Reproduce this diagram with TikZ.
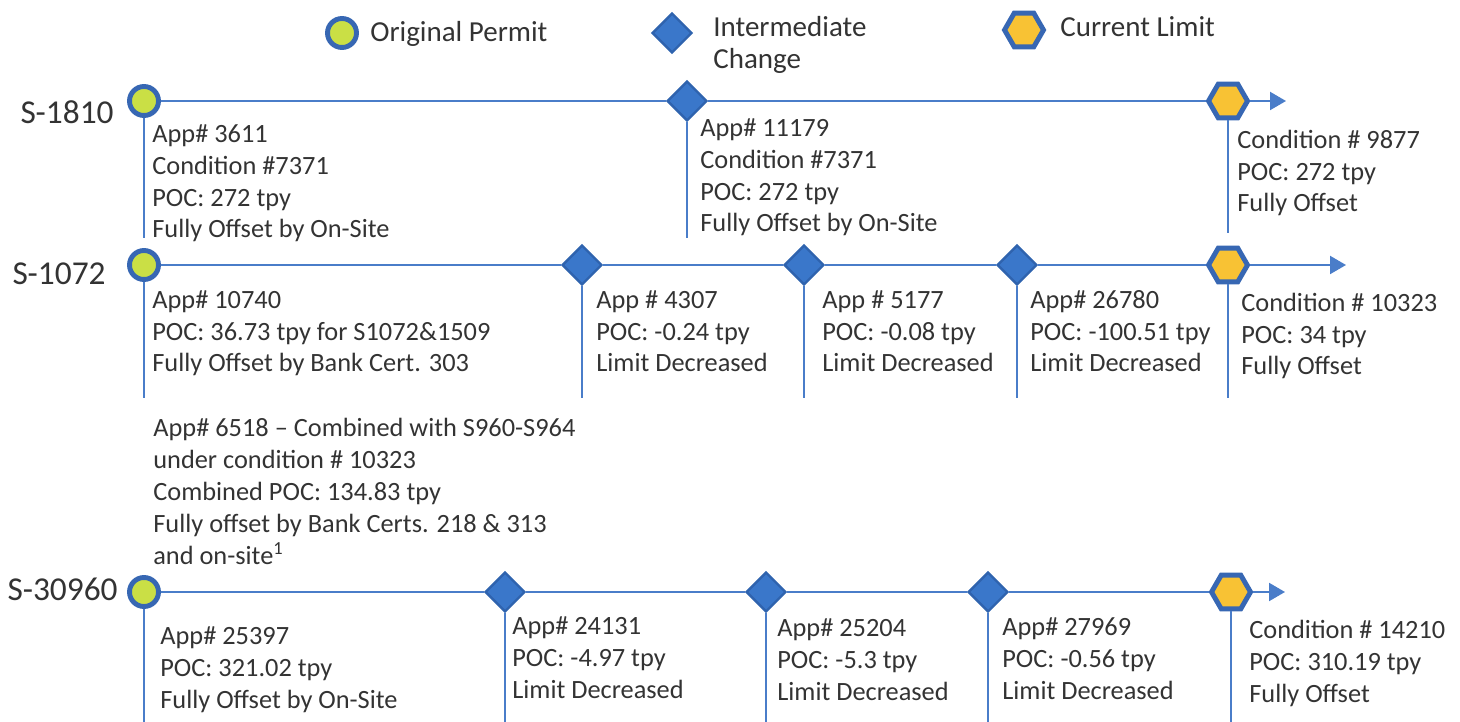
\documentclass[tikz,border=0pt]{standalone}
\usepackage{fontspec}
\setmainfont{Carlito}
\usepackage{xcolor}
\usetikzlibrary{shapes.geometric,arrows.meta}

\definecolor{lineblue}{HTML}{4A7DC9}
\definecolor{rimblue}{HTML}{3767B3}
\definecolor{permitgreen}{HTML}{CADF45}
\definecolor{changeblue}{HTML}{3A77CA}
\definecolor{changerim}{HTML}{2F63AE}
\definecolor{limitgold}{HTML}{F8C234}
\definecolor{textgray}{HTML}{333333}

\begin{document}
\begin{tikzpicture}[x=0.02cm, y=-0.02cm, >={Triangle[length=3.2mm,width=3.6mm]},
    permit/.style={circle, draw=rimblue, fill=permitgreen, line width=2.8pt, minimum size=0.58cm, inner sep=0pt},
    change/.style={diamond, draw=changerim, fill=changeblue, line width=1.4pt, minimum width=0.8cm, minimum height=0.8cm, inner sep=0pt},
    limit/.style={regular polygon, regular polygon sides=6, draw=rimblue, fill=limitgold, line width=2.8pt, minimum size=0.78cm, inner sep=0pt},
    info/.style={anchor=base west, align=left, inner sep=0pt, text=textgray, font=\fontsize{15}{18.2}\selectfont},
    key/.style={anchor=base west, align=left, inner sep=0pt, text=textgray, font=\fontsize{16.5}{18.5}\selectfont},
    site/.style={anchor=east, inner sep=0pt, text=textgray, font=\fontsize{19}{23}\selectfont},
    tline/.style={draw=lineblue, line width=1.2pt},
    stem/.style={draw=lineblue, line width=1pt}]
    \useasboundingbox (0,0) rectangle (1460,722);

    % legend (text nodes sit on the baseline of their last line)
    \node[permit] (kp) at (342,33) {};
    \node[key] (kpt) at (370,42) {Original Permit};
    \node[change] (kc) at (672,33) {};
    \node[key] (kct) at (713,69) {Intermediate\\Change};
    \node[limit] (kl) at (1024,30) {};
    \node[key] (klt) at (1060,37) {Current Limit};

    % S-1810
    \node[site] (s1) at (114,112) {S-1810};
    \node[permit] (c1) at (144,101) {};
    \node[change] (d1a) at (687,101) {};
    \node[limit] (h1) at (1228,101) {};
    \coordinate (e1) at (1286,101);
    \coordinate (f1) at (0,238);

    \draw[tline] (c1) -- (d1a) -- (h1);
    \draw[tline, ->] (h1) -- (e1);
    \draw[stem] (c1) -- (c1 |- f1);
    \draw[stem] (d1a) -- (d1a |- f1);
    \draw[stem] (h1) -- (h1 |- 0,233);

    \node[info] (t1a) at (152,238) {App\# 3611\\Condition \#7371\\POC: 272 tpy\\Fully Offset by On-Site};
    \node[info] (t1b) at (700,232) {App\# 11179\\Condition \#7371\\POC: 272 tpy\\Fully Offset by On-Site};
    \node[info] (t1c) at (1237,212) {Condition \# 9877\\POC: 272 tpy\\Fully Offset};

    % S-1072
    \node[site] (s2) at (106,274) {S-1072};
    \node[permit] (c2) at (144,265) {};
    \node[change] (d2a) at (582,265) {};
    \node[change] (d2b) at (804,265) {};
    \node[change] (d2c) at (1017,265) {};
    \node[limit] (h2) at (1228,265) {};
    \coordinate (e2) at (1346,265);
    \coordinate (f2) at (0,398);

    \draw[tline] (c2) -- (d2a) -- (d2b) -- (d2c) -- (h2);
    \draw[tline, ->] (h2) -- (e2);
    \foreach \n in {c2,d2a,d2b,d2c,h2}
        \draw[stem] (\n) -- (\n |- f2);

    \node[info] (t2a) at (152,372) {App\# 10740\\POC: 36.73 tpy for S1072\&1509\\Fully Offset by Bank Cert. 303};
    \node[info] (t2b) at (596,372) {App \# 4307\\POC: -0.24 tpy\\Limit Decreased};
    \node[info] (t2c) at (822,372) {App \# 5177\\POC: -0.08 tpy\\Limit Decreased};
    \node[info] (t2d) at (1030,372) {App\# 26780\\POC: -100.51 tpy\\Limit Decreased};
    \node[info] (t2e) at (1241,375) {Condition \# 10323\\POC: 34 tpy\\Fully Offset};
    \node[info] (t2f) at (153,564) {App\# 6518 – Combined with S960-S964\\under condition \# 10323\\Combined POC: 134.83 tpy\\Fully offset by Bank Certs. 218 \& 313\\and on-site\textsuperscript{1}};

    % S-30960
    \node[site] (s3) at (118,589) {S-30960};
    \node[permit] (c3) at (144,592) {};
    \node[change] (d3a) at (505,592) {};
    \node[change] (d3b) at (766,592) {};
    \node[change] (d3c) at (988,592) {};
    \node[limit] (h3) at (1231,592) {};
    \coordinate (e3) at (1285,592);
    \coordinate (f3) at (0,722);

    \draw[tline] (c3) -- (d3a) -- (d3b) -- (d3c) -- (h3);
    \draw[tline, ->] (h3) -- (e3);
    \foreach \n in {c3,d3a,d3b,d3c,h3}
        \draw[stem] (\n) -- (\n |- f3);

    \node[info] (t3a) at (160,708) {App\# 25397\\POC: 321.02 tpy\\Fully Offset by On-Site};
    \node[info] (t3b) at (512,698) {App\# 24131\\POC: -4.97 tpy\\Limit Decreased};
    \node[info] (t3c) at (777,700) {App\# 25204\\POC: -5.3 tpy\\Limit Decreased};
    \node[info] (t3d) at (1002,699) {App\# 27969\\POC: -0.56 tpy\\Limit Decreased};
    \node[info] (t3e) at (1249,702) {Condition \# 14210\\POC: 310.19 tpy\\Fully Offset};
\end{tikzpicture}
\end{document}
